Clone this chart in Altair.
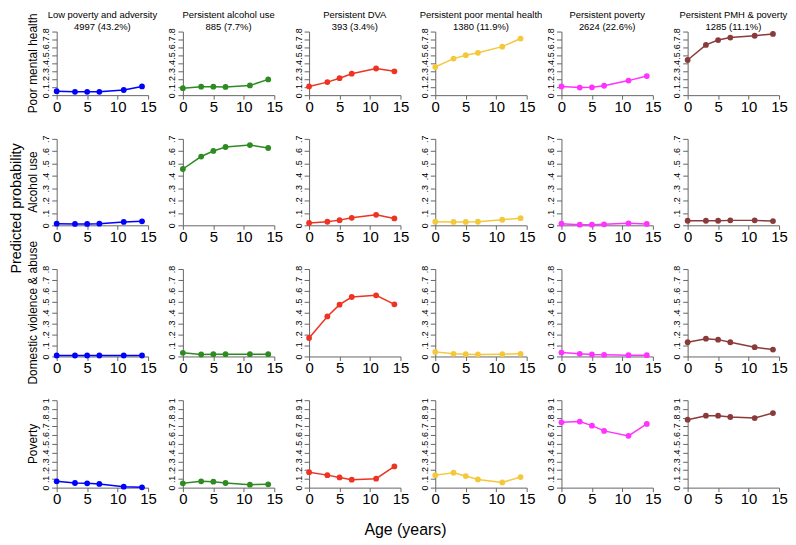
import altair as alt
import pandas as pd

ages = [0, 3, 5, 7, 11, 14]

class_names = ["Low poverty and adversity", "Persistent alcohol use", "Persistent DVA",
               "Persistent poor mental health", "Persistent poverty", "Persistent PMH & poverty"]
class_counts = ["4997 (43.2%)", "885 (7.7%)", "393 (3.4%)", "1380 (11.9%)", "2624 (22.6%)", "1285 (11.1%)"]
class_colors = ["#0000FF", "#2E8B22", "#EE3322", "#F5C83C", "#FF33FF", "#8B3A3A"]

row_names = ["Poor mental health", "Alcohol use", "Domestic violence & abuse", "Poverty"]
row_ymax = [0.8, 0.7, 0.8, 1.0]

y_title = "Predicted probability"
x_title = "Age (years)"

# Poor mental health
pmh_low = [0.050, 0.042, 0.042, 0.042, 0.065, 0.110]
pmh_alc = [0.088, 0.107, 0.107, 0.103, 0.122, 0.198]
pmh_dva = [0.110, 0.164, 0.213, 0.270, 0.335, 0.300]
pmh_pmh = [0.354, 0.460, 0.503, 0.533, 0.610, 0.712]
pmh_pov = [0.110, 0.095, 0.099, 0.118, 0.183, 0.240]
pmh_pmhpov = [0.442, 0.632, 0.693, 0.724, 0.747, 0.770]

# Alcohol use
alc_low = [0.013, 0.011, 0.011, 0.013, 0.027, 0.032]
alc_alc = [0.456, 0.557, 0.602, 0.634, 0.650, 0.626]
alc_dva = [0.019, 0.029, 0.042, 0.061, 0.085, 0.056]
alc_pmh = [0.029, 0.027, 0.027, 0.029, 0.045, 0.058]
alc_pov = [0.013, 0.005, 0.005, 0.008, 0.016, 0.011]
alc_pmhpov = [0.037, 0.037, 0.037, 0.040, 0.040, 0.034]

# Domestic violence & abuse
dva_low = [0.009, 0.009, 0.009, 0.009, 0.009, 0.009]
dva_alc = [0.033, 0.018, 0.021, 0.021, 0.021, 0.021]
dva_dva = [0.169, 0.366, 0.474, 0.544, 0.559, 0.477]
dva_pmh = [0.042, 0.024, 0.021, 0.018, 0.021, 0.024]
dva_pov = [0.036, 0.024, 0.018, 0.015, 0.012, 0.012]
dva_pmhpov = [0.130, 0.163, 0.154, 0.130, 0.085, 0.063]

# Poverty
pov_low = [0.072, 0.053, 0.049, 0.042, 0.011, 0.003]
pov_alc = [0.049, 0.072, 0.068, 0.053, 0.034, 0.038]
pov_dva = [0.177, 0.143, 0.117, 0.091, 0.102, 0.242]
pov_pmh = [0.143, 0.170, 0.132, 0.094, 0.060, 0.121]
pov_pov = [0.747, 0.755, 0.709, 0.649, 0.592, 0.728]
pov_pmhpov = [0.777, 0.823, 0.823, 0.808, 0.796, 0.853]

values = [
    [pmh_low, pmh_alc, pmh_dva, pmh_pmh, pmh_pov, pmh_pmhpov],
    [alc_low, alc_alc, alc_dva, alc_pmh, alc_pov, alc_pmhpov],
    [dva_low, dva_alc, dva_dva, dva_pmh, dva_pov, dva_pmhpov],
    [pov_low, pov_alc, pov_dva, pov_pmh, pov_pov, pov_pmhpov],
]

row_heights = [64, 87, 88, 88]
PANEL_W = 92
FONT = "Liberation Sans"

label_expr = ("datum.value == 0 ? '0' : (datum.value >= 1 ? '1' : "
              "replace(format(datum.value, '.1f'), '0.', '.'))")


def text_layer(txt, x, y, size, angle=0):
    kw = dict(fontSize=size, font=FONT, color="#000000", align="center", baseline="middle")
    if angle:
        kw["angle"] = angle
    return alt.Chart(pd.DataFrame({"t": [txt]})).mark_text(**kw).encode(
        text="t:N", x=alt.value(x), y=alt.value(y))


def panel(r, c):
    df = pd.DataFrame({"age": ages, "p": values[r][c]})
    ymax = row_ymax[r]
    h = row_heights[r]
    ticks = [round(i * 0.1, 1) for i in range(int(round(ymax * 10)) + 1)]
    yaxis = alt.Axis(values=ticks, labelExpr=label_expr, labelAngle=270,
                     labelFontSize=9, labelOverlap=False, labelFlush=False,
                     labelPadding=1, tickSize=5)
    xaxis = alt.Axis(values=[0, 5, 10, 15], labelFontSize=15, labelFlush=False,
                     labelOverlap=False, tickSize=4, labelPadding=0)
    base = alt.Chart(df).encode(
        x=alt.X("age:Q", scale=alt.Scale(domain=[0, 15], nice=False, zero=False),
                axis=xaxis, title=None),
        y=alt.Y("p:Q", scale=alt.Scale(domain=[0, ymax], nice=False),
                axis=yaxis, title=None),
    )
    col = class_colors[c]
    layers = [
        base.mark_line(color=col, strokeWidth=1.5),
        base.mark_point(filled=True, size=34, opacity=1, color=col),
    ]
    if r == 0:
        layers.append(text_layer(class_names[c], PANEL_W / 2, -17, 9.5))
        layers.append(text_layer(class_counts[c], PANEL_W / 2, -5, 9.5))
    if c == 0:
        layers.append(text_layer(row_names[r], -24, h / 2, 12, angle=270))
    if r == 1 and c == 0:
        layers.append(text_layer(y_title, -40, 70, 14.5, angle=270))
    if r == 3 and c == 2:
        layers.append(text_layer(x_title, 97, 131, 16))
    return alt.layer(*layers).properties(width=PANEL_W, height=h)


panels = [panel(r, c) for r in range(4) for c in range(6)]

chart = alt.concat(*panels, columns=6, spacing={"row": 44, "column": 35},
                   bounds="flush", align="each").configure(
    font=FONT, padding=0).configure_view(stroke=None).configure_axis(
    grid=False, domainColor="#666666", tickColor="#666666", labelColor="#000000",
    labelFont=FONT)

chart.save("out.html", embed_options={"renderer": "svg", "actions": False})
